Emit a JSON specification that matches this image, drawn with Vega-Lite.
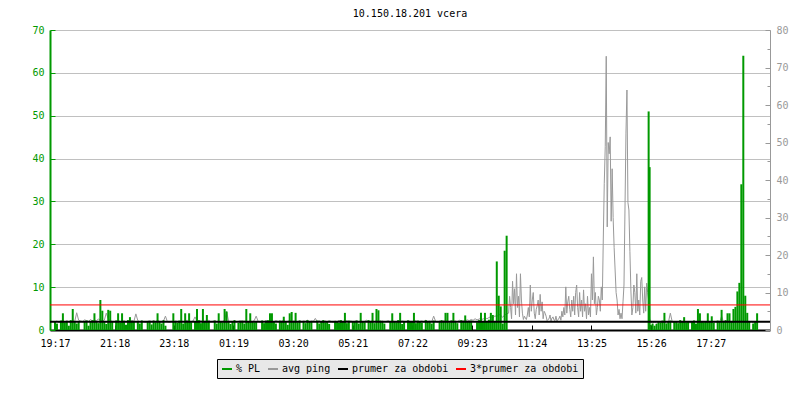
{
"$schema": "https://vega.github.io/schema/vega-lite/v6.json",
"width": 720, "height": 300,
"autosize": {"type": "none"},
"padding": {"left": 50, "top": 30, "right": 30, "bottom": 70},
"background": "white",
"title": {"text": "10.150.18.201 vcera", "font": "DejaVu Sans Mono", "fontSize": 10, "fontWeight": "normal", "color": "#000000", "frame": "group", "anchor": "middle", "baseline": "alphabetic", "offset": -2},
"config": {"view": {"stroke": null}, "axis": {"labelFont": "DejaVu Sans Mono", "labelFontSize": 10, "title": null}},
"datasets": {"series": [
{"t":0,"pl":2,"p":2.2},{"t":4,"pl":1.5,"p":2.4},{"t":8,"pl":0,"p":2.0},{"t":12,"pl":2.2,"p":2.3},{"t":16,"pl":3.9,"p":2.6},{"t":20,"pl":1.8,"p":2.1},{"t":24,"pl":2,"p":2.5},{"t":28,"pl":1,"p":2.2},{"t":32,"pl":2.3,"p":2.0},{"t":36,"pl":4.9,"p":2.4},
{"t":40,"pl":2,"p":2.3},{"t":44,"pl":1.5,"p":4.6},{"t":48,"pl":2.1,"p":2.6},{"t":52,"pl":0,"p":2.4},{"t":56,"pl":0,"p":2.2},{"t":60,"pl":1.9,"p":2.7},{"t":64,"pl":2.2,"p":2.5},{"t":68,"pl":1,"p":2.3},{"t":72,"pl":2,"p":2.8},{"t":76,"pl":2.3,"p":2.4},
{"t":80,"pl":3.9,"p":2.6},{"t":84,"pl":2,"p":2.5},{"t":88,"pl":1.6,"p":2.9},{"t":92,"pl":7.0,"p":2.7},{"t":96,"pl":4.5,"p":2.4},{"t":100,"pl":2.1,"p":2.6},{"t":104,"pl":1.4,"p":4.5},{"t":108,"pl":4.7,"p":3.0},{"t":112,"pl":4.5,"p":2.5},{"t":116,"pl":2,"p":2.3},
{"t":120,"pl":0,"p":2.2},{"t":124,"pl":2.2,"p":2.4},{"t":128,"pl":3.9,"p":2.6},{"t":132,"pl":1.8,"p":2.3},{"t":136,"pl":3.9,"p":2.2},{"t":140,"pl":2,"p":2.5},{"t":144,"pl":1.2,"p":2.1},{"t":148,"pl":2.3,"p":2.4},{"t":152,"pl":3,"p":2.2},{"t":156,"pl":1.9,"p":2.6},
{"t":160,"pl":2,"p":2.3},{"t":164,"pl":0,"p":4.3},{"t":168,"pl":2.1,"p":2.5},{"t":172,"pl":1.5,"p":2.2},{"t":176,"pl":2.2,"p":2.4},{"t":180,"pl":0,"p":2.2},{"t":184,"pl":0,"p":2.1},{"t":188,"pl":1.9,"p":2.3},{"t":192,"pl":2,"p":2.5},{"t":196,"pl":1.3,"p":2.2},
{"t":200,"pl":2.2,"p":2.4},{"t":204,"pl":1.8,"p":2.2},{"t":208,"pl":3.9,"p":2.6},{"t":212,"pl":2,"p":2.3},{"t":216,"pl":1.5,"p":2.1},{"t":220,"pl":2.3,"p":2.4},{"t":224,"pl":1,"p":3.7},{"t":228,"pl":0,"p":2.2},{"t":232,"pl":0,"p":2.1},{"t":236,"pl":0,"p":2.3},
{"t":240,"pl":3.9,"p":2.2},{"t":244,"pl":2,"p":2.4},{"t":248,"pl":1.7,"p":2.3},{"t":252,"pl":2.2,"p":2.1},{"t":256,"pl":4.9,"p":2.5},{"t":260,"pl":1.5,"p":2.2},{"t":264,"pl":3.9,"p":2.4},{"t":268,"pl":2.1,"p":2.6},{"t":272,"pl":3.9,"p":2.3},{"t":276,"pl":1.8,"p":2.2},
{"t":280,"pl":0,"p":2.4},{"t":284,"pl":2,"p":3.5},{"t":288,"pl":4.9,"p":2.3},{"t":292,"pl":2.3,"p":2.2},{"t":296,"pl":1.6,"p":2.5},{"t":300,"pl":4.9,"p":2.1},{"t":304,"pl":2,"p":2.4},{"t":308,"pl":3.5,"p":2.3},{"t":312,"pl":1.9,"p":2.6},{"t":316,"pl":0,"p":2.2},
{"t":320,"pl":0,"p":2.3},{"t":324,"pl":2.2,"p":2.5},{"t":328,"pl":1.5,"p":2.2},{"t":332,"pl":3.9,"p":2.4},{"t":336,"pl":2,"p":2.1},{"t":340,"pl":1.8,"p":2.3},{"t":344,"pl":4.9,"p":2.6},{"t":348,"pl":4.3,"p":5.0},{"t":352,"pl":2.1,"p":2.4},{"t":356,"pl":1.4,"p":2.2},
{"t":360,"pl":2,"p":2.1},{"t":364,"pl":2.3,"p":2.4},{"t":368,"pl":0,"p":2.2},{"t":372,"pl":1.7,"p":2.3},{"t":376,"pl":2,"p":2.5},{"t":380,"pl":2.2,"p":2.2},{"t":384,"pl":1.5,"p":2.4},{"t":388,"pl":4.9,"p":2.3},{"t":392,"pl":2,"p":2.1},{"t":396,"pl":3.9,"p":2.4},
{"t":400,"pl":2.1,"p":2.2},{"t":404,"pl":1.8,"p":2.5},{"t":408,"pl":2,"p":3.7},{"t":412,"pl":0,"p":2.3},{"t":416,"pl":0,"p":2.1},{"t":420,"pl":2.2,"p":2.4},{"t":424,"pl":1.6,"p":2.2},{"t":428,"pl":2,"p":2.6},{"t":432,"pl":2.3,"p":2.3},{"t":436,"pl":3.9,"p":2.2},
{"t":440,"pl":3.9,"p":2.4},{"t":444,"pl":2,"p":2.2},{"t":448,"pl":1.5,"p":2.5},{"t":452,"pl":0,"p":2.3},{"t":456,"pl":2.2,"p":2.1},{"t":460,"pl":1.9,"p":2.4},{"t":464,"pl":3.1,"p":2.6},{"t":468,"pl":2,"p":2.2},{"t":472,"pl":1.2,"p":2.3},{"t":476,"pl":3.9,"p":2.5},
{"t":480,"pl":4.2,"p":2.2},{"t":484,"pl":2.1,"p":2.4},{"t":488,"pl":4.0,"p":2.3},{"t":492,"pl":1.8,"p":2.1},{"t":496,"pl":2.2,"p":2.5},{"t":500,"pl":0,"p":2.2},{"t":504,"pl":2,"p":2.4},{"t":508,"pl":1.6,"p":2.3},{"t":512,"pl":2.3,"p":2.6},{"t":516,"pl":2,"p":2.2},
{"t":520,"pl":1.9,"p":2.4},{"t":524,"pl":0,"p":2.3},{"t":528,"pl":0,"p":3.1},{"t":532,"pl":2.2,"p":2.2},{"t":536,"pl":1.5,"p":2.5},{"t":540,"pl":2,"p":2.1},{"t":544,"pl":2.3,"p":2.3},{"t":548,"pl":1.8,"p":2.4},{"t":552,"pl":2,"p":2.2},{"t":556,"pl":1.4,"p":2.5},
{"t":560,"pl":0,"p":2.3},{"t":564,"pl":0,"p":2.1},{"t":568,"pl":2.1,"p":2.4},{"t":572,"pl":2,"p":2.2},{"t":576,"pl":1.7,"p":2.6},{"t":580,"pl":2.3,"p":2.3},{"t":584,"pl":2,"p":2.2},{"t":588,"pl":4,"p":2.4},{"t":592,"pl":1.6,"p":2.5},{"t":596,"pl":2.2,"p":2.2},
{"t":600,"pl":0,"p":2.4},{"t":604,"pl":2,"p":2.2},{"t":608,"pl":1.9,"p":2.3},{"t":612,"pl":2.2,"p":2.5},{"t":616,"pl":1.5,"p":2.1},{"t":620,"pl":4,"p":2.4},{"t":624,"pl":2.1,"p":2.2},{"t":628,"pl":1.8,"p":2.3},{"t":632,"pl":0,"p":2.6},{"t":636,"pl":2.3,"p":2.2},
{"t":640,"pl":2,"p":2.3},{"t":644,"pl":4,"p":2.4},{"t":648,"pl":1.6,"p":2.2},{"t":652,"pl":4.9,"p":2.5},{"t":656,"pl":4.6,"p":2.3},{"t":660,"pl":2.2,"p":2.1},{"t":664,"pl":2,"p":2.4},{"t":668,"pl":1.5,"p":2.2},{"t":672,"pl":0,"p":2.3},{"t":676,"pl":0,"p":2.5},
{"t":680,"pl":2.1,"p":2.2},{"t":684,"pl":3.9,"p":2.4},{"t":688,"pl":2,"p":2.3},{"t":692,"pl":1.8,"p":2.1},{"t":696,"pl":2.3,"p":2.5},{"t":700,"pl":4,"p":2.2},{"t":704,"pl":1.4,"p":2.4},{"t":708,"pl":2,"p":2.3},{"t":712,"pl":0,"p":2.2},{"t":716,"pl":2.2,"p":2.6},
{"t":720,"pl":1.9,"p":2.3},{"t":724,"pl":2,"p":2.2},{"t":728,"pl":4,"p":2.4},{"t":732,"pl":1.6,"p":2.5},{"t":736,"pl":2.2,"p":2.1},{"t":740,"pl":2,"p":2.3},{"t":744,"pl":1.7,"p":2.4},{"t":748,"pl":0,"p":2.2},{"t":752,"pl":2.3,"p":2.6},{"t":756,"pl":2.1,"p":2.3},
{"t":760,"pl":2,"p":2.4},{"t":764,"pl":1.5,"p":2.2},{"t":768,"pl":2.2,"p":3.7},{"t":772,"pl":0,"p":2.3},{"t":776,"pl":0,"p":2.1},{"t":780,"pl":1.9,"p":2.4},{"t":784,"pl":2.3,"p":2.2},{"t":788,"pl":2,"p":2.5},{"t":792,"pl":4,"p":2.3},{"t":796,"pl":4,"p":2.4},
{"t":800,"pl":1.8,"p":2.2},{"t":804,"pl":2.2,"p":2.5},{"t":808,"pl":4,"p":2.3},{"t":812,"pl":2,"p":2.4},{"t":816,"pl":1.6,"p":2.2},{"t":820,"pl":0,"p":2.6},{"t":824,"pl":2.3,"p":2.3},{"t":828,"pl":2.1,"p":2.5},{"t":832,"pl":3.4,"p":2.4},{"t":836,"pl":1.9,"p":2.7},
{"t":840,"pl":2,"p":2.5},{"t":844,"pl":2.2,"p":2.8},{"t":848,"pl":0,"p":2.6},{"t":852,"pl":0,"p":3.0},{"t":856,"pl":1.8,"p":2.7},{"t":860,"pl":2.3,"p":2.9},{"t":864,"pl":4,"p":3.2},{"t":868,"pl":2,"p":2.8},{"t":872,"pl":4,"p":3.4},{"t":876,"pl":2.1,"p":3.0},
{"t":880,"pl":2.4,"p":3.3},{"t":884,"pl":4,"p":3.6},{"t":888,"pl":3.5,"p":3.1},{"t":892,"pl":2,"p":3.8},{"t":896,"pl":16,"p":3.5},{"t":900,"pl":8,"p":4.2},{"t":904,"pl":5.5,"p":3.9},{"t":908,"pl":1.5,"p":3.4},{"t":912,"pl":18.5,"p":4.0},{"t":916,"pl":22,"p":4.3},
{"t":920,"pl":0,"p":4.5},{"t":922,"pl":0,"p":9},{"t":924,"pl":0,"p":6},{"t":926,"pl":0,"p":3},{"t":928,"pl":0,"p":13},{"t":930,"pl":0,"p":7},{"t":932,"pl":0,"p":11},{"t":934,"pl":0,"p":4},{"t":936,"pl":0,"p":15},{"t":938,"pl":0,"p":6},
{"t":940,"pl":0,"p":9},{"t":942,"pl":0,"p":3.5},{"t":944,"pl":0,"p":15},{"t":946,"pl":0,"p":8},{"t":948,"pl":0,"p":4.5},{"t":950,"pl":0,"p":2.8},{"t":952,"pl":0,"p":3.7},{"t":954,"pl":0,"p":3.2},{"t":956,"pl":0,"p":2.8},{"t":958,"pl":0,"p":4},
{"t":960,"pl":0,"p":6},{"t":962,"pl":0,"p":3.5},{"t":964,"pl":0,"p":12},{"t":966,"pl":0,"p":5},{"t":968,"pl":0,"p":8},{"t":970,"pl":0,"p":10},{"t":972,"pl":0,"p":4.5},{"t":974,"pl":0,"p":3},{"t":976,"pl":0,"p":5.5},{"t":978,"pl":0,"p":6.5},
{"t":980,"pl":0,"p":8},{"t":982,"pl":0,"p":4},{"t":984,"pl":0,"p":9.5},{"t":986,"pl":0,"p":5},{"t":988,"pl":0,"p":7.5},{"t":990,"pl":0,"p":3},{"t":992,"pl":0,"p":5},{"t":994,"pl":0,"p":4.5},{"t":996,"pl":0,"p":3.7},{"t":998,"pl":0,"p":2.5},
{"t":1000,"pl":0,"p":2.8},{"t":1002,"pl":0,"p":3},{"t":1004,"pl":0,"p":4},{"t":1006,"pl":0,"p":2.4},{"t":1008,"pl":0,"p":3.2},{"t":1010,"pl":0,"p":3.5},{"t":1012,"pl":0,"p":2.7},{"t":1014,"pl":0,"p":2.5},{"t":1016,"pl":0,"p":3.7},{"t":1018,"pl":0,"p":2.4},
{"t":1020,"pl":0,"p":2.8},{"t":1022,"pl":0,"p":3},{"t":1024,"pl":0,"p":3.7},{"t":1026,"pl":0,"p":2.6},{"t":1028,"pl":0,"p":5},{"t":1030,"pl":0,"p":3.5},{"t":1032,"pl":0,"p":6},{"t":1034,"pl":0,"p":4},{"t":1036,"pl":0,"p":11.5},{"t":1038,"pl":0,"p":4.5},
{"t":1040,"pl":0,"p":7.5},{"t":1042,"pl":0,"p":9},{"t":1044,"pl":0,"p":5.5},{"t":1046,"pl":0,"p":3.5},{"t":1048,"pl":0,"p":8},{"t":1050,"pl":0,"p":5},{"t":1052,"pl":0,"p":9},{"t":1054,"pl":0,"p":4},{"t":1056,"pl":0,"p":10},{"t":1058,"pl":0,"p":12},
{"t":1060,"pl":0,"p":6},{"t":1062,"pl":0,"p":3.5},{"t":1064,"pl":0,"p":10},{"t":1066,"pl":0,"p":5},{"t":1068,"pl":0,"p":8},{"t":1070,"pl":0,"p":3.5},{"t":1072,"pl":0,"p":10.7},{"t":1074,"pl":0,"p":5},{"t":1076,"pl":0,"p":7},{"t":1078,"pl":0,"p":3},
{"t":1080,"pl":0,"p":9},{"t":1082,"pl":0,"p":4},{"t":1084,"pl":0,"p":6},{"t":1086,"pl":0,"p":3.5},{"t":1088,"pl":0,"p":15},{"t":1090,"pl":0,"p":8},{"t":1092,"pl":0,"p":19.5},{"t":1094,"pl":0,"p":7},{"t":1096,"pl":0,"p":10},{"t":1098,"pl":0,"p":4},
{"t":1100,"pl":0,"p":6},{"t":1102,"pl":0,"p":9},{"t":1104,"pl":0,"p":8},{"t":1106,"pl":0,"p":5},{"t":1108,"pl":0,"p":11.5},{"t":1110,"pl":0,"p":8},{"t":1112,"pl":0,"p":24},{"t":1114,"pl":0,"p":39},{"t":1116,"pl":0,"p":49},{"t":1118,"pl":0,"p":73},
{"t":1120,"pl":0,"p":27.5},{"t":1122,"pl":0,"p":50},{"t":1124,"pl":0,"p":47},{"t":1126,"pl":0,"p":51.5},{"t":1128,"pl":0,"p":29},{"t":1130,"pl":0,"p":43},{"t":1132,"pl":0,"p":30},{"t":1134,"pl":0,"p":22},{"t":1136,"pl":0,"p":16},{"t":1138,"pl":0,"p":10},
{"t":1140,"pl":0,"p":8},{"t":1142,"pl":0,"p":4},{"t":1144,"pl":0,"p":5.5},{"t":1146,"pl":0,"p":3},{"t":1148,"pl":0,"p":4.5},{"t":1150,"pl":0,"p":3},{"t":1152,"pl":0,"p":7.5},{"t":1154,"pl":0,"p":12},{"t":1156,"pl":0,"p":32},{"t":1158,"pl":0,"p":52.5},
{"t":1160,"pl":0,"p":64},{"t":1162,"pl":0,"p":34},{"t":1164,"pl":0,"p":32},{"t":1166,"pl":0,"p":21},{"t":1168,"pl":0,"p":10.7},{"t":1170,"pl":0,"p":4},{"t":1172,"pl":0,"p":6},{"t":1174,"pl":0,"p":12},{"t":1176,"pl":0,"p":10},{"t":1178,"pl":0,"p":4.5},
{"t":1180,"pl":0,"p":15},{"t":1182,"pl":0,"p":5},{"t":1184,"pl":0,"p":8},{"t":1186,"pl":0,"p":4},{"t":1188,"pl":0,"p":13},{"t":1190,"pl":0,"p":14},{"t":1192,"pl":0,"p":8},{"t":1194,"pl":0,"p":4.5},{"t":1196,"pl":0,"p":11.5},{"t":1198,"pl":0,"p":5},
{"t":1200,"pl":0,"p":12.5},{"t":1202,"pl":0,"p":10},{"t":1204,"pl":51,"p":8},{"t":1206,"pl":38,"p":3},
{"t":1208,"pl":1.2,"p":2.2},{"t":1212,"pl":1.5,"p":1.9},{"t":1216,"pl":1,"p":2.1},{"t":1220,"pl":1.4,"p":1.8},{"t":1224,"pl":2,"p":2.0},{"t":1228,"pl":1.8,"p":2.2},{"t":1232,"pl":2.2,"p":1.9},{"t":1236,"pl":4,"p":2.1},{"t":1240,"pl":1.5,"p":1.8},{"t":1244,"pl":2,"p":2.0},
{"t":1248,"pl":2.2,"p":4.5},{"t":1252,"pl":0,"p":2.1},{"t":1256,"pl":1.9,"p":1.9},{"t":1260,"pl":2,"p":2.2},{"t":1264,"pl":1.6,"p":2.0},{"t":1268,"pl":2.3,"p":1.8},{"t":1272,"pl":2,"p":2.1},{"t":1276,"pl":3,"p":1.9},{"t":1280,"pl":1.8,"p":2.2},{"t":1284,"pl":2.1,"p":2.0},
{"t":1288,"pl":0,"p":1.9},{"t":1292,"pl":2,"p":2.1},{"t":1296,"pl":2.2,"p":2.0},{"t":1300,"pl":1.5,"p":2.2},{"t":1304,"pl":4.9,"p":1.8},{"t":1308,"pl":3.9,"p":2.1},{"t":1312,"pl":2.1,"p":1.9},{"t":1316,"pl":1.8,"p":2.0},{"t":1320,"pl":2,"p":2.2},{"t":1324,"pl":3.9,"p":1.9},
{"t":1328,"pl":2,"p":2.1},{"t":1332,"pl":3.2,"p":2.0},{"t":1336,"pl":1.7,"p":1.8},{"t":1340,"pl":0,"p":2.2},{"t":1344,"pl":2.2,"p":1.9},{"t":1348,"pl":2,"p":2.1},{"t":1352,"pl":4.7,"p":3.7},{"t":1356,"pl":1.9,"p":2.0},{"t":1360,"pl":2.3,"p":1.9},{"t":1364,"pl":3.9,"p":2.2},
{"t":1368,"pl":3.9,"p":2.0},{"t":1372,"pl":2.1,"p":2.1},{"t":1376,"pl":4.9,"p":1.9},{"t":1380,"pl":5.4,"p":2.3},{"t":1384,"pl":9,"p":2.2},{"t":1388,"pl":11,"p":2.0},{"t":1392,"pl":34,"p":2.4},{"t":1396,"pl":64,"p":2.1},{"t":1400,"pl":8,"p":1.9},{"t":1404,"pl":4,"p":2.2},
{"t":1408,"pl":2,"p":2.0},{"t":1412,"pl":0,"p":2.3},{"t":1416,"pl":1.5,"p":1.9},{"t":1420,"pl":2,"p":2.1},{"t":1424,"pl":3.9,"p":2.0}
]},
"layer": [
{
"data": {"name": "series"},
"mark": {"type": "line", "strokeWidth": 1, "interpolate": "linear"},
"encoding": {
"x": {"field": "t", "type": "quantitative", "scale": {"domain": [0, 1440], "nice": false, "zero": false},
"axis": {"orient": "bottom", "values": [0,121,241,362,483,604,725,846,967,1088,1209,1330],
"labelExpr": "pad(floor(((1157+datum.value)%1440)/60),2,'0','left')+':'+pad(((1157+datum.value)%1440)%60,2,'0','left')",
"domainColor": "#000000", "domainWidth": 2, "tickColor": "#000000", "tickSize": -5, "labelColor": "#000000", "labelPadding": 13, "labelFlush": false, "grid": false, "title": null}},
"y": {"field": "p", "type": "quantitative", "scale": {"domain": [0, 80], "nice": false},
"axis": {"orient": "right", "values": [0,5,10,15,20,25,30,35,40,45,50,55,60,65,70,75,80],
"labelExpr": "datum.value % 10 == 0 ? datum.label : ''",
"domainColor": "#999999", "tickColor": "#999999",
"tickSize": {"condition": {"test": "datum.value % 10 == 0", "value": -5}, "value": -3},
"labelColor": "#999999", "labelPadding": 11, "grid": false, "title": null}},
"stroke": {"datum": "avg ping", "type": "nominal",
"scale": {"domain": ["% PL", "avg ping", "prumer za obdobi", "3*prumer za obdobi"], "range": ["#009900", "#999999", "#000000", "#ff0000"]},
"legend": {"title": null, "orient": "none", "legendX": 167, "legendY": 329, "direction": "horizontal", "fillColor": "#e8e8e8", "strokeColor": "#000000", "padding": 4, "labelFont": "DejaVu Sans Mono", "labelFontSize": 10, "labelColor": "#000000", "symbolType": "stroke", "symbolStrokeWidth": 2, "symbolSize": 100, "labelOffset": 3, "columnPadding": 3}}
}
},
{
"layer": [
{
"data": {"name": "series"},
"mark": {"type": "bar", "width": 2, "fill": "#009900"},
"encoding": {
"x": {"field": "t", "type": "quantitative"},
"y": {"field": "pl", "type": "quantitative", "scale": {"domain": [0, 70], "nice": false},
"axis": {"orient": "left", "values": [0,5,10,15,20,25,30,35,40,45,50,55,60,65,70],
"labelExpr": "datum.value % 10 == 0 ? datum.label : ''",
"domainColor": "#009900", "domainWidth": 2, "tickColor": "#009900",
"tickSize": {"condition": {"test": "datum.value % 10 == 0", "value": -5}, "value": -3},
"labelColor": "#009900", "labelPadding": 11, "grid": true, "gridColor": "#c0c0c0",
"gridOpacity": {"condition": {"test": "datum.value % 10 == 0", "value": 1}, "value": 0}, "title": null}}
}
},
{
"data": {"values": [{"v": 1.95}]},
"mark": {"type": "rule", "strokeWidth": 2},
"encoding": {
"y": {"field": "v", "type": "quantitative", "scale": {"domain": [0, 70], "nice": false}},
"stroke": {"datum": "prumer za obdobi", "type": "nominal"}
}
},
{
"data": {"values": [{"v": 5.85}]},
"mark": {"type": "rule", "strokeWidth": 1},
"encoding": {
"y": {"field": "v", "type": "quantitative", "scale": {"domain": [0, 70], "nice": false}},
"stroke": {"datum": "3*prumer za obdobi", "type": "nominal"}
}
}
]
}
],
"resolve": {"scale": {"y": "independent"}}
}
